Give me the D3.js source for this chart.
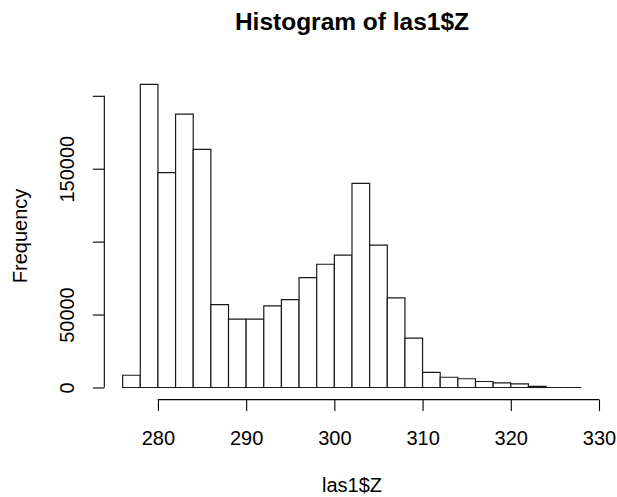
<!DOCTYPE html>
<html>
<head>
<meta charset="utf-8">
<script src="https://cdn.jsdelivr.net/npm/d3@7"></script>
<style>
  html, body { margin: 0; padding: 0; background: #fff; }
  svg text { font-family: "Liberation Sans", Arial, sans-serif; fill: #000; }
</style>
</head>
<body>
<svg id="chart" width="617" height="497"></svg>
<script>
// Histogram bins (lower and upper edges) and counts
const binStarts = [276, 278, 280, 282, 284, 286, 288, 290, 292, 294, 296, 298, 300, 302, 304, 306, 308, 310, 312, 314, 316, 318, 320, 322, 324, 326];
const binEnds   = [278, 280, 282, 284, 286, 288, 290, 292, 294, 296, 298, 300, 302, 304, 306, 308, 310, 312, 314, 316, 318, 320, 322, 324, 326, 328];
const counts    = [8400, 207800, 147300, 187400, 163300, 56800, 46900, 46900, 55900, 60200, 75300, 84500, 90700, 140000, 97600, 61400, 33900, 10400, 7000, 6000, 4100, 3200, 2500, 800, 0, 0];

const xTicks = [280, 290, 300, 310, 320, 330];
const yTicks = [0, 50000, 100000, 150000, 200000];
const yTickLabels = ["0", "50000", "", "150000", ""];

const titleText = "Histogram of las1$Z";
const xLabel = "las1$Z";
const yLabel = "Frequency";

const svg = d3.select("#chart");

// plot region (R style: 4% extension of data range)
const plot = { left: 104.3, right: 599.7, top: 72.3, bottom: 399.6 };
const xmin = d3.min(binStarts), xmax = d3.max(binEnds);
const xpad = (xmax - xmin) * 0.04;
const ymax = d3.max(counts);
const ypad = ymax * 0.04;

const x = d3.scaleLinear().domain([xmin - xpad, xmax + xpad]).range([plot.left, plot.right]);
const y = d3.scaleLinear().domain([-ypad, ymax + ypad]).range([plot.bottom, plot.top]);

const data = binStarts.map((s, i) => ({ x0: s, x1: binEnds[i], n: counts[i] }));

// bars (drawn as closed paths so that empty bins still show as a baseline)
svg.append("g")
  .selectAll("path")
  .data(data)
  .join("path")
  .attr("d", d => {
    const p = d3.path();
    p.moveTo(x(d.x0), y(0));
    p.lineTo(x(d.x0), y(d.n));
    p.lineTo(x(d.x1), y(d.n));
    p.lineTo(x(d.x1), y(0));
    p.closePath();
    return p.toString();
  })
  .attr("fill", "#fff")
  .attr("stroke", "#1a1a1a")
  .attr("stroke-width", 1.2);

// x axis
const xAxis = d3.axisBottom(x).tickValues(xTicks).tickSize(11.5).tickPadding(19.5).tickFormat(d3.format("d"));
const gx = svg.append("g").attr("transform", `translate(0,${plot.bottom})`).call(xAxis);
gx.select(".domain").attr("d", `M${x(xTicks[0])},0H${x(xTicks[xTicks.length-1])}`).attr("stroke", "#000").attr("stroke-width", 1.1);
gx.selectAll(".tick line").attr("stroke", "#000").attr("stroke-width", 1.1);
gx.selectAll(".tick text").attr("font-size", 20).attr("font-family", "Liberation Sans, Arial, sans-serif").attr("fill", "#000");

// y axis
const yAxis = d3.axisLeft(y).tickValues(yTicks).tickSize(11.5).tickFormat((d, i) => yTickLabels[i]);
const gy = svg.append("g").attr("transform", `translate(${plot.left},0)`).call(yAxis);
gy.select(".domain").attr("d", `M0,${y(yTicks[0])}V${y(yTicks[yTicks.length-1])}`).attr("stroke", "#000").attr("stroke-width", 1.1);
gy.selectAll(".tick line").attr("stroke", "#000").attr("stroke-width", 1.1);
gy.selectAll(".tick text")
  .attr("font-size", 20)
  .attr("font-family", "Liberation Sans, Arial, sans-serif")
  .attr("fill", "#000")
  .attr("x", null).attr("dy", null)
  .attr("text-anchor", "middle")
  .attr("transform", "translate(-30,0) rotate(-90)");

// title and labels
const cx = (plot.left + plot.right) / 2;
svg.append("text").attr("x", cx).attr("y", 30).attr("text-anchor", "middle")
  .attr("font-size", 24.5).attr("font-weight", "bold").text(titleText);
svg.append("text").attr("x", cx).attr("y", 492).attr("text-anchor", "middle")
  .attr("font-size", 20).text(xLabel);
svg.append("text").attr("transform", `translate(27,${(plot.top + plot.bottom) / 2}) rotate(-90)`)
  .attr("text-anchor", "middle").attr("font-size", 20).text(yLabel);
</script>
</body>
</html>
